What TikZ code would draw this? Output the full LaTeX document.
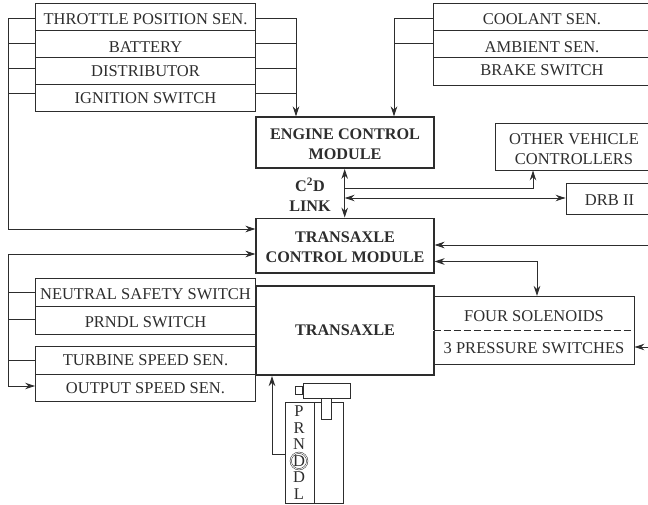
\documentclass[tikz,border=0pt]{standalone}
\usepackage{fontspec}
\setmainfont{Liberation Serif}
\usetikzlibrary{arrows.meta, positioning}
\definecolor{wireblack}{RGB}{45,45,45}
\begin{document}
\begin{tikzpicture}[x=1pt, y=-1pt, >={Stealth[length=10pt, width=6.5pt]},
        every node/.style={font=\fontsize{16.5}{20}\selectfont, text=wireblack},
        plainbox/.style={draw=wireblack, line width=0.9pt, inner sep=0pt, align=center},
        rowbox/.style={plainbox, text height=11pt, text depth=0pt},
        sidebox/.style={rowbox, minimum width=220pt},
        ctrlbox/.style={draw=wireblack, line width=1.8pt, inner sep=0pt, minimum width=178pt, align=center, font=\fontsize{16.2}{20}\selectfont\bfseries},
        wire/.style={draw=wireblack, line width=0.9pt}]
      \useasboundingbox (0,0) rectangle (648,505);
      % sensors top left
      \node[sidebox, minimum height=26.5pt, text height=15pt] (thr) at (145.5,16.75) {THROTTLE POSITION SEN.};
      \node[sidebox, minimum height=27.5pt, text height=18pt] (bat) at (145.5,43.75) {BATTERY};
      \node[sidebox, minimum height=27pt] (dist) at (145.5,71) {DISTRIBUTOR};
      \node[sidebox, minimum height=26.5pt] (ign) at (145.5,97.75) {IGNITION SWITCH};
      % sensors top right
      \node[rowbox, minimum width=217pt, minimum height=26.5pt, text height=15pt] (cool) at (542,16.75) {COOLANT SEN.};
      \node[rowbox, minimum width=217pt, minimum height=27.5pt, text height=18pt] (amb) at (542,43.75) {AMBIENT SEN.};
      \node[rowbox, minimum width=217pt, minimum height=27.5pt, text height=9pt] (brake) at (542,71.25) {BRAKE SWITCH};
      % modules
      \node[ctrlbox, minimum height=51pt, text height=35pt] (ecm) at (345,142.5) {ENGINE CONTROL\\MODULE};
      \node[ctrlbox, minimum height=54.5pt, text height=34pt] (tcm) at (345,245.75) {TRANSAXLE\\CONTROL MODULE};
      \node[ctrlbox, minimum height=89pt] (trans) at (345,330.5) {TRANSAXLE};
      \node[plainbox, minimum width=158pt, minimum height=47pt, text height=37pt] (other) at (574,146.5) {OTHER VEHICLE\\CONTROLLERS};
      \node[rowbox, minimum width=87pt, minimum height=31pt, text height=15pt] (drb) at (609.5,198.5) {DRB II};
      \node[font=\fontsize{16.2}{20}\selectfont\bfseries, inner sep=0pt, align=center] (link) at (310,195) {C\textsuperscript{2}D\\LINK};
      % solenoids
      \node[rowbox, minimum width=200pt, minimum height=34pt, text height=17pt] (sol) at (534,313) {FOUR SOLENOIDS};
      \node[rowbox, draw=none, minimum width=200pt, minimum height=34pt, text height=13pt] (press) at (534,347) {3 PRESSURE SWITCHES};
      \draw[wire] (sol.south west) |- (press.south east) -- (sol.south east);
      \fill[white] ([xshift=-0.5pt]sol.south west) rectangle ([xshift=0.5pt, yshift=-0.5pt]sol.south east);
      \draw[wire, dash pattern=on 7pt off 3pt] (sol.south west) -- (sol.south east);
      % sensors bottom left
      \node[sidebox, minimum height=27.5pt, text height=15pt] (neut) at (145.5,292.25) {NEUTRAL SAFETY SWITCH};
      \node[sidebox, minimum height=28pt, text height=15pt] (prndl) at (145.5,320) {PRNDL SWITCH};
      \node[sidebox, minimum height=28.5pt] (turb) at (145.5,360.25) {TURBINE SPEED SEN.};
      \node[sidebox, minimum height=27pt] (outp) at (145.5,388) {OUTPUT SPEED SEN.};
      % gear selector
      \node[plainbox, minimum width=28.5pt, minimum height=100.5pt, anchor=north west] (gate) at (285,402) {};
      \node[plainbox, minimum width=28.5pt, minimum height=100.5pt, anchor=north west] (slot) at (gate.north east) {};
      \node[plainbox, minimum width=46.5pt, minimum height=15.5pt, anchor=north west, fill=white] (grip) at (303,382.5) {};
      \node[plainbox, minimum width=7pt, minimum height=8pt, anchor=east] (btn) at (grip.west) {};
      \node[plainbox, minimum width=10.5pt, minimum height=21pt, anchor=north, fill=white] (stem) at (326.3,398) {};
      \foreach \gear/\ypos in {P/411, R/428, N/444, D/477, L/494}
        \node[inner sep=0pt] (g\gear) at (299,\ypos) {\gear};
      \node[inner sep=0pt] (gsel) at (299,461) {D};
      \node[circle, draw=wireblack, double, double distance=0.8pt, line width=0.5pt, minimum size=16.5pt, inner sep=0pt] (gring) at (gsel) {};
      % named ends
      \coordinate (ecmleft) at (296,116.5);
      \coordinate (ecmright) at (394,116.5);
      \coordinate (lbus) at (8.5,229);
      \coordinate (tcmleft) at (255.5,229);
      \coordinate (lowtcm) at (255.5,254);
      \coordinate (lowbus) at (8.5,254);
      \coordinate (linkmid) at (344.7,188.5);
      \coordinate (linkdrb) at (344.7,198);
      \coordinate (tcmin) at (434.5,245);
      \coordinate (edgea) at (648,245);
      \coordinate (tcmsol) at (434.5,261.5);
      \coordinate (solin) at (537,296);
      \coordinate (edgeb) at (648,347);
      \coordinate (transin) at (272,376);
      % wires
      \draw[wire, ->] (thr.east |- 0,18) -| (ecmleft);
      \foreach \n/\ypos in {bat/43, dist/68, ign/93}
        \draw[wire] (\n.east |- 0,\ypos) -- (ecmleft |- 0,\ypos);
      \draw[wire, ->] (thr.west |- 0,18) -| (lbus) -- (tcmleft);
      \foreach \n/\ypos in {bat/43, dist/68, ign/93}
        \draw[wire] (\n.west |- 0,\ypos) -- (lbus |- 0,\ypos);
      \draw[wire, ->] (cool.west |- 0,18) -| (ecmright);
      \draw[wire] (amb.west |- 0,43) -- (ecmright |- 0,43);
      \draw[wire, <->] (ecm.south -| linkmid) -- (tcm.north -| linkmid);
      \draw[wire, ->] (linkmid) -| (533,0 |- other.south);
      \draw[wire, <->] (linkdrb) -- (drb.west |- linkdrb);
      \draw[wire, ->] (edgea) -- (tcmin);
      \draw[wire, <->] (tcmsol) -| (solin);
      \draw[wire, ->] (edgeb) -- (press.east |- edgeb);
      \draw[wire, <->] (lowtcm) -- (lowbus) |- (outp.west |- 0,386);
      \foreach \n/\ypos in {neut/292.5, prndl/319, turb/360}
        \draw[wire] (\n.west |- 0,\ypos) -- (lowbus |- 0,\ypos);
      \draw[wire, ->] (gate.west |- 0,454) -| (transin);
\end{tikzpicture}
\end{document}
